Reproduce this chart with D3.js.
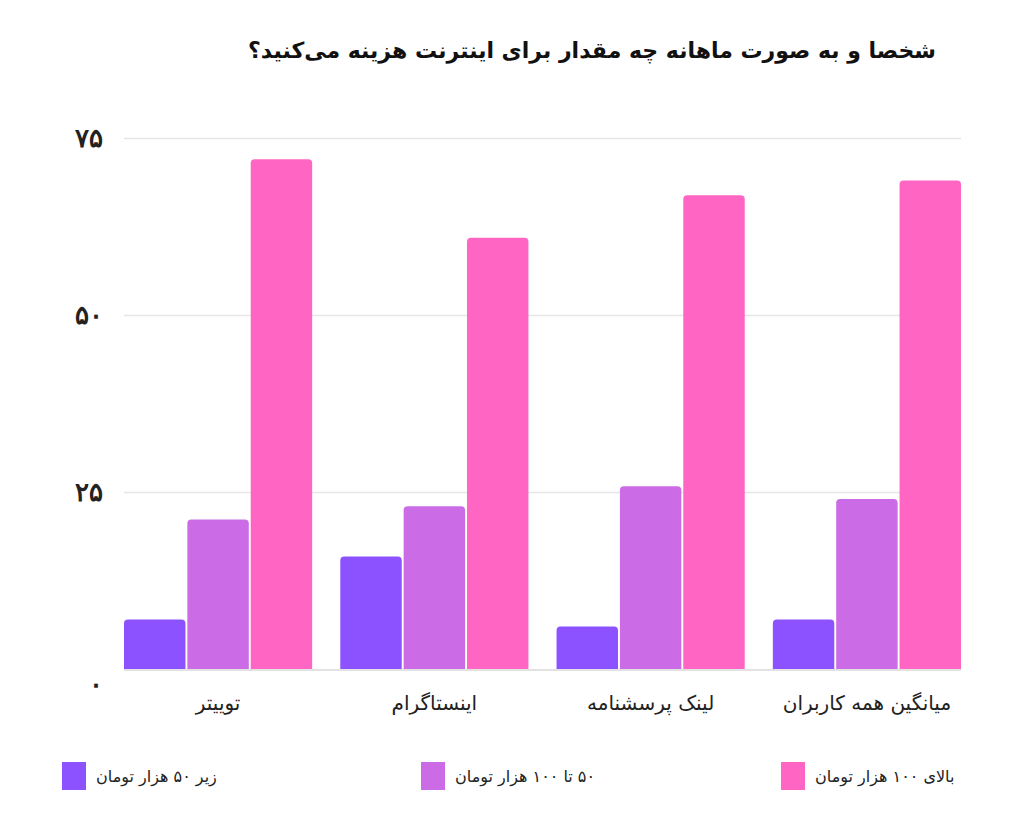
<!DOCTYPE html>
<html>
<head>
<meta charset="utf-8">
<script src="https://cdn.jsdelivr.net/npm/d3@7"></script>
<style>
    body { margin: 0; background: #fff; }
    svg { display: block; font-family: "DejaVu Sans", sans-serif; }
    .grid line { stroke: #e6e6e6; stroke-width: 1.5; }
    .grid .domain { display: none; }
    .y.axis .domain, .y.axis line { display: none; }
    .y.axis text { font-size: 26px; font-weight: bold; fill: #222; }
</style>
</head>
<body>
<svg id="chart" width="1024" height="822"></svg>
<script>
/**********************************************
 *
 * grouped bar chart
 *
 **********************************************/
const title = "شخصا و به صورت ماهانه چه مقدار برای اینترنت هزینه می‌کنید؟"

const categories = ["توییتر", "اینستاگرام", "لینک پرسشنامه", "میانگین همه کاربران"]
const seriesNames = ["زیر ۵۰ هزار تومان", "۵۰ تا ۱۰۰ هزار تومان", "بالای ۱۰۰ هزار تومان"]
const under50 = [7.0, 15.9, 6.0, 7.0]
const from50to100 = [21.1, 23.0, 25.8, 24.0]
const over100 = [72.0, 60.9, 66.9, 69.0]
const yTicks = [0, 25, 50, 75]

const colors = ["#8c52ff", "#cb6ce6", "#ff66c4"]

const margin = {
    top: 138,
    left: 124,
    right: 63,
    bottom: 153
}
const width = 1024
const height = 822
const innerWidth = width - margin.left - margin.right
const innerHeight = height - margin.top - margin.bottom

const faDigits = s => String(s).replace(/\d/g, c => "۰۱۲۳۴۵۶۷۸۹"[c])
// wrap in right-to-left embedding so the question mark stays on the left
const rtl = s => "\u202B" + s + "\u202C"

const svg = d3.select("#chart")

// title
svg.append("text")
    .attr("x", 592)
    .attr("y", 58)
    .attr("text-anchor", "middle")
    .style("font-size", "22px")
    .style("font-weight", "bold")
    .style("fill", "#111")
    .text(rtl(title))

const g = svg.append("g")
    .attr("transform", `translate(${margin.left}, ${margin.top})`)

// Scales
const x0 = d3.scaleBand().domain(categories).range([0, innerWidth]).paddingInner(0.13).paddingOuter(0)
const x1 = d3.scaleBand().domain(seriesNames).range([0, x0.bandwidth()]).paddingInner(0.03)
const y = d3.scaleLinear().domain([0, 75]).range([innerHeight, 0])

// grid
g.append("g")
    .attr("class", "grid")
    .call(d3.axisLeft(y).tickValues(yTicks.slice(1)).tickSize(-innerWidth).tickFormat(""))

// baseline
g.append("line")
    .attr("x1", 0)
    .attr("x2", innerWidth)
    .attr("y1", y(0) + 1)
    .attr("y2", y(0) + 1)
    .style("stroke", "#d9d9d9")
    .style("stroke-width", 1.5)

// y axis labels
g.append("g")
    .attr("class", "y axis")
    .call(d3.axisLeft(y).tickValues(yTicks).tickSize(0).tickPadding(21).tickFormat(faDigits))
    .selectAll("text")
    .attr("dy", d => d === 0 ? "0.9em" : "0.32em")

// bars
const rows = categories.map((c, i) => ({
    cat: c,
    vals: [under50[i], from50to100[i], over100[i]]
}))

function topRounded(x, yTop, w, h, r) {
    return `M${x},${yTop + h}V${yTop + r}Q${x},${yTop} ${x + r},${yTop}` +
        `H${x + w - r}Q${x + w},${yTop} ${x + w},${yTop + r}V${yTop + h}Z`
}

const groups = g.selectAll(".group")
    .data(rows)
    .join("g")
    .attr("class", "group")
    .attr("transform", d => `translate(${x0(d.cat)}, 0)`)

groups.selectAll("path")
    .data(d => d.vals.map((v, i) => ({ key: seriesNames[i], v, i })))
    .join("path")
    .attr("fill", d => colors[d.i])
    .attr("d", d => topRounded(x1(d.key), y(d.v), x1.bandwidth(), y(0) - y(d.v), 4))

// x labels
g.append("g")
    .selectAll("text")
    .data(categories)
    .join("text")
    .attr("x", d => x0(d) + x0.bandwidth() / 2)
    .attr("y", innerHeight + 41)
    .attr("text-anchor", "middle")
    .style("font-size", "20px")
    .style("fill", "#222")
    .text(d => rtl(d))

// legend
const legendX = [62, 421, 781]
const legend = svg.append("g")
    .selectAll("g")
    .data(seriesNames)
    .join("g")
    .attr("transform", (d, i) => `translate(${legendX[i]}, 762)`)

legend.append("rect")
    .attr("width", 24)
    .attr("height", 28)
    .attr("fill", (d, i) => colors[i])

legend.append("text")
    .attr("x", 34)
    .attr("y", 20)
    .attr("text-anchor", "start")
    .style("font-size", "16px")
    .style("fill", "#222")
    .text(d => rtl(d))
</script>
</body>
</html>
